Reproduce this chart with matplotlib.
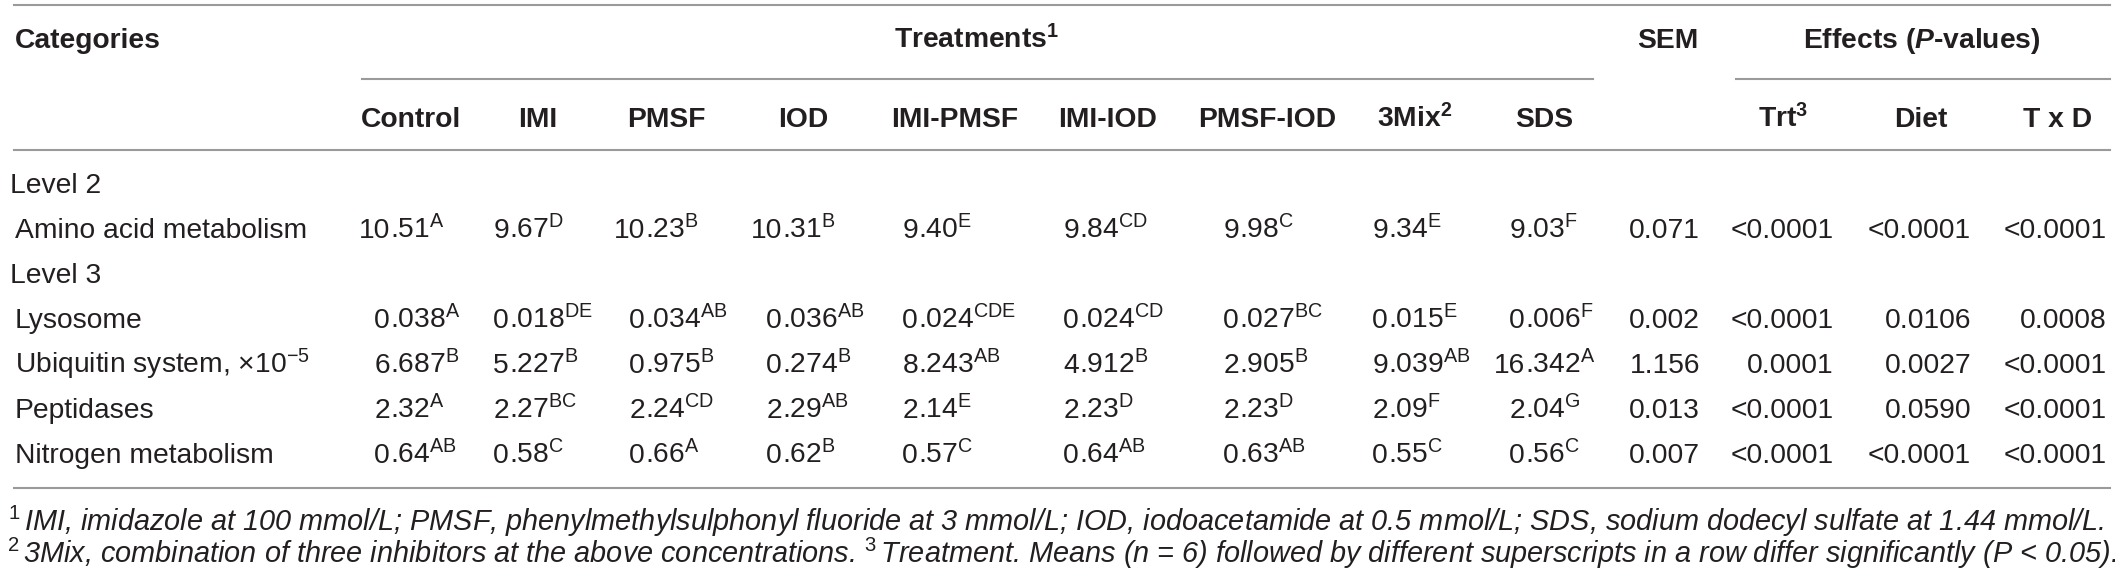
import matplotlib
matplotlib.use('Agg')
import matplotlib.pyplot as plt

plt.rcParams['font.family'] = ['Liberation Sans', 'DejaVu Sans']
plt.rcParams['mathtext.fontset'] = 'custom'
plt.rcParams['mathtext.rm'] = 'Liberation Sans'
plt.rcParams['mathtext.it'] = 'Liberation Sans:italic'
plt.rcParams['mathtext.bf'] = 'Liberation Sans:bold'
plt.rcParams['mathtext.bfit'] = 'Liberation Sans:italic:bold'
plt.rcParams['mathtext.sf'] = 'Liberation Sans'

# table content
treatments = ['Control', 'IMI', 'PMSF', 'IOD', 'IMI-PMSF', 'IMI-IOD', 'PMSF-IOD', '3Mix', 'SDS']
treat_sup = ['', '', '', '', '', '', '', '2', '']
effects = ['Trt', 'Diet', 'T x D']
effect_sup = ['3', '', '']

row_labels = ['Amino acid metabolism', 'Lysosome', r'Ubiquitin system, $\times10^{-5}$',
              'Peptidases', 'Nitrogen metabolism']
row_level = ['Level 2', 'Level 3', None, None, None]

amino_vals = ['10.51', '9.67', '10.23', '10.31', '9.40', '9.84', '9.98', '9.34', '9.03']
amino_sig = ['A', 'D', 'B', 'B', 'E', 'CD', 'C', 'E', 'F']
lyso_vals = ['0.038', '0.018', '0.034', '0.036', '0.024', '0.024', '0.027', '0.015', '0.006']
lyso_sig = ['A', 'DE', 'AB', 'AB', 'CDE', 'CD', 'BC', 'E', 'F']
ubiq_vals = ['6.687', '5.227', '0.975', '0.274', '8.243', '4.912', '2.905', '9.039', '16.342']
ubiq_sig = ['B', 'B', 'B', 'B', 'AB', 'B', 'B', 'AB', 'A']
pept_vals = ['2.32', '2.27', '2.24', '2.29', '2.14', '2.23', '2.23', '2.09', '2.04']
pept_sig = ['A', 'BC', 'CD', 'AB', 'E', 'D', 'D', 'F', 'G']
nitro_vals = ['0.64', '0.58', '0.66', '0.62', '0.57', '0.64', '0.63', '0.55', '0.56']
nitro_sig = ['AB', 'C', 'A', 'B', 'C', 'AB', 'AB', 'C', 'C']

sem = ['0.071', '0.002', '1.156', '0.013', '0.007']
p_trt = ['<0.0001', '<0.0001', '0.0001', '<0.0001', '<0.0001']
p_diet = ['<0.0001', '0.0106', '0.0027', '0.0590', '<0.0001']
p_txd = ['<0.0001', '0.0008', '<0.0001', '<0.0001', '<0.0001']

footnote1 = (r'$^{\mathit{1}}\,$IMI, imidazole at 100 mmol/L; PMSF, phenylmethylsulphonyl fluoride at 3 mmol/L; '
             'IOD, iodoacetamide at 0.5 mmol/L; SDS, sodium dodecyl sulfate at 1.44 mmol/L.')
footnote2 = (r'$^{\mathit{2}}\,$3Mix, combination of three inhibitors at the above concentrations. '
             r'$^{\mathit{3}}\,$Treatment. Means (n = 6) followed by different superscripts in a row '
             'differ significantly (P < 0.05).')

all_vals = [amino_vals, lyso_vals, ubiq_vals, pept_vals, nitro_vals]
all_sig = [amino_sig, lyso_sig, ubiq_sig, pept_sig, nitro_sig]

# layout (pixels)
W, H = 2115, 577
fs = 20.3
fs_note = 20.8
txt = '#231f20'
rule = '#9a9a9a'
head_x = [411, 538, 666, 803, 955, 1108, 1267, 1415, 1544]
dec_x = [390, 509, 645, 782, 918, 1079, 1239, 1388, 1525]
eff_head_x = [1783, 1921, 2058]
eff_right = [1834, 1971, 2107]
sem_right = 1700

fig = plt.figure(figsize=(W / 100, H / 100), dpi=100)
ax = fig.add_axes([0, 0, 1, 1])
ax.set_xlim(0, W)
ax.set_ylim(H, 0)
ax.axis('off')

# rules
ax.plot([14, 2110], [5, 5], color=rule, lw=1.5)
ax.plot([362, 1593], [79, 79], color=rule, lw=1.5)
ax.plot([1736, 2110], [79, 79], color=rule, lw=1.5)
ax.plot([14, 2110], [150, 150], color=rule, lw=1.5)
ax.plot([14, 2110], [488, 488], color=rule, lw=1.5)

# header row 1
y1 = 48
ax.text(15, y1, 'Categories', fontsize=fs, fontweight='bold', color=txt, va='baseline', ha='left')
ax.text(977, y1, r'Treatments$^{\mathbf{1}}$', fontsize=fs, fontweight='bold', color=txt,
        va='baseline', ha='center')
ax.text(1668, y1, 'SEM', fontsize=fs, fontweight='bold', color=txt, va='baseline', ha='center')
ax.text(1922, y1, r'Effects ($\mathbfit{P}$-values)', fontsize=fs, fontweight='bold', color=txt,
        va='baseline', ha='center')

# header row 2
y2 = 127
for name, sup, x in zip(treatments, treat_sup, head_x):
    s = name + (r'$^{\mathbf{%s}}$' % sup if sup else '')
    ax.text(x, y2, s, fontsize=fs, fontweight='bold', color=txt, va='baseline', ha='center')
for name, sup, x in zip(effects, effect_sup, eff_head_x):
    s = name + (r'$^{\mathbf{%s}}$' % sup if sup else '')
    ax.text(x, y2, s, fontsize=fs, fontweight='bold', color=txt, va='baseline', ha='center')

# body
y = 193
for i, label in enumerate(row_labels):
    if row_level[i]:
        ax.text(10, y, row_level[i], fontsize=fs, color=txt, va='baseline', ha='left')
        y += 45
    ax.text(15, y, label, fontsize=fs, color=txt, va='baseline', ha='left')
    for v, s, dx in zip(all_vals[i], all_sig[i], dec_x):
        ip, fp = v.split('.')
        ax.text(dx, y, ip, fontsize=fs, color=txt, va='baseline', ha='right')
        ax.text(dx, y, '.' + fp + r'$^{\mathrm{%s}}$' % s, fontsize=fs, color=txt,
                va='baseline', ha='left')
    ax.text(sem_right, y, sem[i], fontsize=fs, color=txt, va='baseline', ha='right')
    for col, xr in zip([p_trt, p_diet, p_txd], eff_right):
        ax.text(xr, y, col[i], fontsize=fs, color=txt, va='baseline', ha='right')
    y += 45

# footnotes
ax.text(8, 531, footnote1, fontsize=fs_note, fontstyle='italic', color=txt, va='baseline', ha='left')
ax.text(7, 563, footnote2, fontsize=fs_note, fontstyle='italic', color=txt, va='baseline', ha='left')

fig.savefig('out.png', dpi=100)
